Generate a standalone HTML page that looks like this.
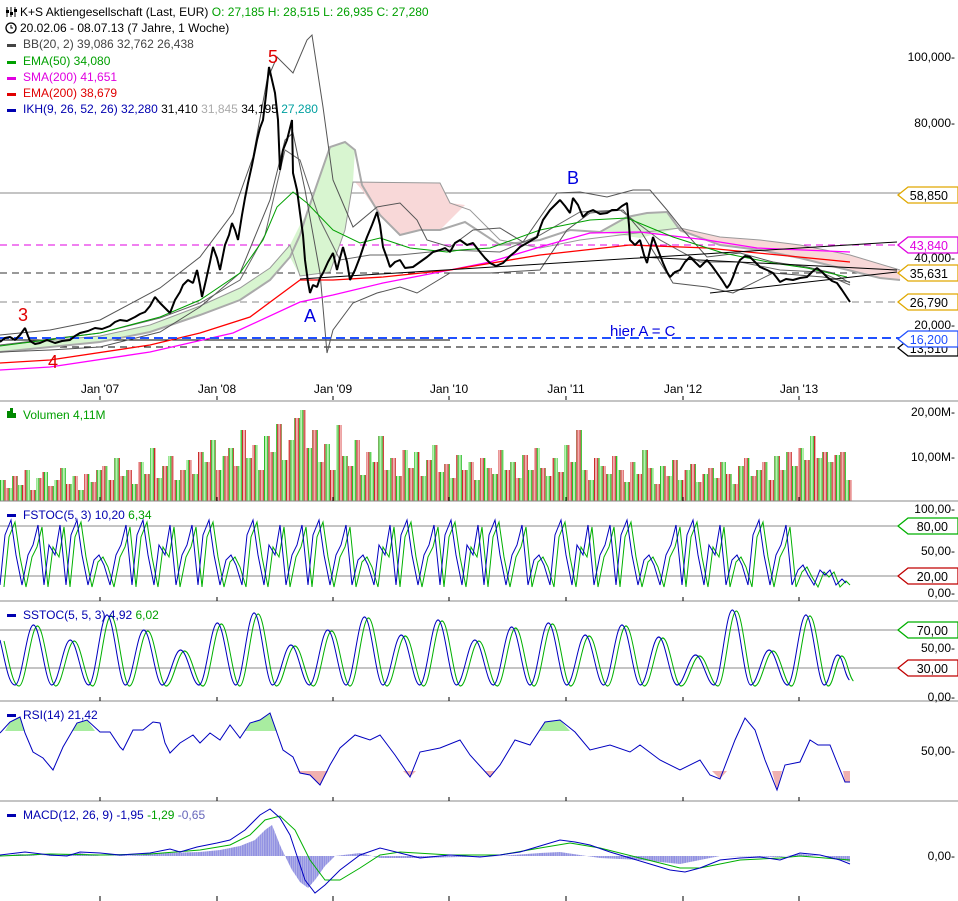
<!DOCTYPE html>
<html><head><meta charset="utf-8"><style>
html,body{margin:0;padding:0;background:#fff}
svg{display:block;font-family:"Liberation Sans",sans-serif}
</style></head><body>
<svg width="958" height="901" xmlns="http://www.w3.org/2000/svg">
<defs>
<pattern id="vp" patternUnits="userSpaceOnUse" width="8.8" height="200" x="0" y="0">
<rect x="0.5" y="0" width="3.2" height="200" fill="#b8f0b0" stroke="#00b000" stroke-width="0.8"/>
<rect x="4.9" y="0" width="3.2" height="200" fill="#f0b0b0" stroke="#c00000" stroke-width="0.8"/>
</pattern>
<pattern id="hp" patternUnits="userSpaceOnUse" width="2.2" height="200">
<rect x="0.3" y="0" width="1.4" height="200" fill="#9898e8" stroke="#6060c8" stroke-width="0.3"/>
</pattern>
<clipPath id="vc"><path d="M0 501 V480 H6 V488 H12 V476 H18 V485 H24 V470 H30 V490 H36 V478 H42 V472 H48 V486 H54 V480 H60 V468 H66 V484 H72 V476 H78 V490 H84 V474 H90 V482 H96 V470 H102 V466 H108 V480 H114 V458 H120 V476 H126 V470 H132 V484 H138 V462 H144 V474 H150 V448 H156 V478 H162 V466 H168 V456 H174 V480 H180 V470 H186 V460 H192 V474 H198 V452 H204 V462 H210 V440 H216 V470 H222 V456 H228 V448 H234 V466 H240 V430 H246 V458 H252 V445 H258 V470 H264 V436 H270 V452 H276 V424 H282 V460 H288 V440 H294 V418 H300 V410 H306 V448 H312 V430 H318 V462 H324 V444 H330 V470 H336 V425 H342 V456 H348 V466 H354 V440 H360 V475 H366 V452 H372 V462 H378 V436 H384 V470 H390 V458 H396 V476 H402 V450 H408 V468 H414 V452 H420 V476 H426 V460 H432 V445 H438 V472 H444 V464 H450 V478 H456 V455 H462 V470 H468 V462 H474 V480 H480 V458 H486 V468 H492 V474 H498 V450 H504 V470 H510 V462 H516 V478 H522 V455 H528 V470 H534 V448 H540 V468 H546 V476 H552 V458 H558 V472 H564 V445 H570 V462 H576 V430 H582 V470 H588 V480 H594 V458 H600 V466 H606 V474 H612 V456 H618 V470 H624 V482 H630 V462 H636 V474 H642 V450 H648 V468 H654 V484 H660 V466 H666 V476 H672 V460 H678 V480 H684 V470 H690 V464 H696 V482 H702 V474 H708 V468 H714 V478 H720 V462 H726 V474 H732 V484 H738 V466 H744 V458 H750 V476 H756 V470 H762 V462 H768 V480 H774 V456 H780 V470 H786 V452 H792 V466 H798 V448 H804 V460 H810 V436 H816 V458 H822 V452 H828 V462 H834 V455 H840 V452 H846 V480 H852 V501 Z"/></clipPath>
<path id="fw" d="M0 585 l5 -50 l6 -15 l5 35 l6 30 l6 -30 l5 -10 l5 -20 l6 60 l5 -40 l6 10 l5 -30 l6 60 l5 -50 l6 -15 l5 35 l6 30 l6 -25 l5 -5 l5 10 l6 20 l6 -30 l5 -10 l5 -20 l6 60 l5 -50 l6 -15 l5 35 l6 30 l5 -40 l6 10 l5 -30 l6 60 l6 -30 l5 -10 l5 -20 l6 60 l5 -50 l6 -15 l5 35 l6 30 l6 -25 l5 -5 l5 10 l6 20 l5 -50 l6 -15 l5 35 l6 30 l5 -40 l6 10 l5 -30 l6 60 l6 -30 l5 -10 l5 -20 l6 60 l5 -50 l6 -15 l5 35 l6 30 l6 -30 l5 -10 l5 -20 l6 60 l6 -25 l5 -5 l5 10 l6 20 l5 -40 l6 10 l5 -30 l6 60 l5 -50 l6 -15 l5 35 l6 30 l6 -30 l5 -10 l5 -20 l6 60 l5 -50 l6 -15 l5 35 l6 30 l5 -40 l6 10 l5 -30 l6 60 l5 -50 l6 -15 l5 35 l6 30 l6 -30 l5 -10 l5 -20 l6 60 l6 -25 l5 -5 l5 10 l6 20 l5 -50 l6 -15 l5 35 l6 30 l5 -40 l6 10 l5 -30 l6 60 l6 -30 l5 -10 l5 -20 l6 60 l5 -50 l6 -15 l5 35 l6 30 l6 -25 l5 -5 l5 10 l6 20 l6 -30 l5 -10 l5 -20 l6 60 l5 -50 l6 -15 l5 35 l6 30 l5 -40 l6 10 l5 -30 l6 60 l6 -25 l5 -5 l5 10 l6 20 l5 -50 l6 -15 l5 35 l6 30 l6 -30 l5 -10 l5 -20 l6 60 l6 -15 l5 -5 l5 10 l6 10 l6 -15 l5 5 l5 -5 l6 15 l6 -6 l4 4"/>
<path id="sw" d="M0 640 c6 20 10 45 18 45 c8 0 14 -60 22 -60 c8 0 14 60 22 60 c8 0 14 -45 22 -45 c8 0 14 45 22 45 c8 0 14 -70 22 -70 c8 0 14 70 22 70 c8 0 14 -55 22 -55 c8 0 14 55 22 55 c8 0 14 -35 22 -35 c8 0 14 35 22 35 c8 0 14 -62 22 -62 c8 0 14 62 22 62 c8 0 14 -72 22 -72 c8 0 14 72 22 72 c8 0 14 -40 22 -40 c8 0 14 40 22 40 c8 0 14 -55 22 -55 c8 0 14 55 22 55 c8 0 14 -68 22 -68 c8 0 14 68 22 68 c8 0 14 -50 22 -50 c8 0 14 50 22 50 c8 0 14 -65 22 -65 c8 0 14 65 22 65 c8 0 14 -45 22 -45 c8 0 14 45 22 45 c8 0 14 -58 22 -58 c8 0 14 58 22 58 c8 0 14 -62 22 -62 c8 0 14 62 22 62 c8 0 14 -50 22 -50 c8 0 14 50 22 50 c8 0 14 -60 22 -60 c8 0 14 60 22 60 c8 0 14 -48 22 -48 c8 0 14 48 22 48 c8 0 14 -30 22 -30 c8 0 14 30 22 30 c8 0 14 -75 22 -75 c8 0 14 75 22 75 c8 0 14 -35 22 -35 c8 0 14 35 22 35 c8 0 14 -70 22 -70 c8 0 14 70 22 70 c6 0 10 -30 16 -30 c6 0 8 20 14 25"/>
<clipPath id="sc"><rect x="0" y="602" width="900" height="99"/></clipPath>
</defs>

<line x1="0" x2="900" y1="193" y2="193" stroke="#888"/>
<line x1="0" x2="900" y1="245" y2="245" stroke="#e000e0" stroke-dasharray="7 5"/>
<line x1="0" x2="900" y1="273" y2="273" stroke="#333" stroke-dasharray="7 5"/>
<line x1="0" x2="900" y1="302" y2="302" stroke="#888" stroke-dasharray="7 5"/>
<line x1="0" x2="900" y1="347" y2="347" stroke="#000" stroke-dasharray="7 5"/>
<line x1="0" x2="450" y1="340" y2="340" stroke="#000"/>

<polygon points="0,345 100,336 150,325 200,306 240,288 270,268 290,245 300,225 307,213 330,147 345,142 355,150 353,182 345,230 330,272 300,276 290,257 270,280 240,300 200,315 150,332 100,342 0,352" fill="#d8f5d0"/>
<polygon points="355,182 440,183 450,203 465,205 440,230 420,230 400,235 380,215 362,190" fill="#f8d8d8"/>
<polygon points="600,232 627,217 647,213 667,212 680,228 640,238" fill="#d8f5d0"/>
<polygon points="680,228 720,237 760,240 800,245 850,255 900,270 900,280 880,278 840,268 800,258 760,250 720,245 680,232" fill="#f8d8d8"/>
<polyline points="0,352 100,342 150,332 200,315 240,300 270,280 290,257 300,235 307,213 330,147 345,142 355,150 362,185 380,215 400,235 420,230 440,230 465,222 500,245 540,240 570,230 600,232 627,217 647,213 667,212 680,230 720,245 760,250 800,258 840,268 880,278 900,280" fill="none" stroke="#aaa" stroke-width="2"/>
<polyline points="0,345 100,336 150,325 200,306 240,288 270,268 290,245 300,276 330,272 345,230 353,182 440,183 450,203 470,210 500,240 540,248 580,240 620,235 680,228 720,237 760,240 800,245 850,255 900,270" fill="none" stroke="#999" stroke-width="1"/>

<polyline points="0,335 50,330 100,320 160,288 200,257 233,213 253,157 267,80 277,57 293,73 307,40 312,35 323,107 333,180 353,227 377,207 400,203 417,220 427,240 450,247 473,230 500,228 523,242 557,193 580,192 607,197 633,190 650,190 667,210 683,230 707,257 740,253 773,262 807,267 833,273 850,283" fill="none" stroke="#555"/>
<polyline points="0,352 50,350 100,347 160,332 200,307 240,273 270,200 285,140 293,133 305,190 320,273 327,353 333,330 353,303 377,293 400,287 417,293 450,273 490,273 540,270 567,230 590,213 623,210 640,230 673,283 707,287 733,293 773,273 823,277 850,282" fill="none" stroke="#555"/>
<polyline points="0,345 100,333 160,318 200,303 240,280 265,235 285,150 300,160 320,220 340,260 370,255 400,255 450,250 500,252 540,235 580,212 620,210 660,240 700,262 740,262 780,270 820,272 850,285" fill="none" stroke="#666"/>

<polyline points="0,370 50,367 150,352 233,333 300,302 333,295 383,283 450,270 490,262 540,247 590,233 640,232 707,240 757,248 850,252" fill="none" stroke="#ff00ff" stroke-width="1.3"/>
<polyline points="0,363 50,360 150,345 200,333 250,317 277,297 300,280 333,280 383,277 450,270 540,255 630,245 707,248 850,262" fill="none" stroke="#ff0000" stroke-width="1.3"/>
<polyline points="0,346 100,333 160,317 200,300 240,273 263,240 277,207 293,192 307,203 333,230 360,243 380,238 410,248 447,252 460,250 490,248 540,230 590,220 627,218 673,237 723,253 773,263 807,268 847,277" fill="none" stroke="#00a000"/>

<line x1="300" y1="279" x2="897" y2="242" stroke="#000"/>
<line x1="710" y1="293" x2="897" y2="272" stroke="#000"/>
<line x1="640" y1="257" x2="897" y2="270" stroke="#000"/>
<line x1="0" x2="900" y1="338" y2="338" stroke="#2050ff" stroke-width="2" stroke-dasharray="9 5"/>

<polyline points="0,342 5,338 10,337 15,340 20,335 25,328 28,336 30,341 35,344 40,343 47,340 55,343 62,341 70,340 75,336 80,333 88,331 95,328 102,329 110,326 115,322 120,320 127,321 135,317 140,314 145,312 150,306 155,297 160,303 165,308 170,313 175,300 180,292 183,285 188,280 193,283 197,270 200,285 202,297 206,280 210,262 213,247 217,258 220,270 225,245 229,235 232,223 235,230 238,240 242,215 245,198 248,183 252,165 257,140 260,128 263,120 266,95 269,67 272,80 275,93 278,120 280,170 283,150 287,140 290,128 292,120 293,173 297,190 300,213 303,235 305,260 308,282 310,293 313,285 317,287 320,278 323,273 328,262 333,253 337,270 340,258 343,247 347,262 350,280 355,270 360,257 364,245 367,237 372,225 377,212 380,225 383,247 387,258 390,267 395,262 400,260 405,268 413,267 420,262 427,257 433,252 440,250 445,248 450,252 455,243 460,240 467,245 473,243 480,252 485,258 490,263 496,266 503,263 510,256 515,252 520,247 527,243 532,240 537,237 540,228 543,220 550,210 555,205 560,200 565,206 570,213 573,198 578,205 583,217 588,212 593,210 600,214 607,213 612,210 617,210 622,206 627,203 629,225 630,240 635,245 640,240 644,255 647,263 650,250 653,237 658,250 663,263 667,272 670,277 675,272 680,270 685,262 690,257 695,262 700,267 704,263 707,260 712,266 717,273 722,280 727,288 730,284 733,277 737,266 740,260 745,256 750,257 755,262 760,267 767,270 773,273 777,278 780,282 786,279 793,280 800,278 807,277 812,272 817,268 822,272 827,277 832,281 837,283 842,290 846,296 850,302" fill="none" stroke="#000" stroke-width="2" stroke-linejoin="bevel"/>

<rect x="0" y="400" width="900" height="101" fill="url(#vp)" clip-path="url(#vc)"/>

<line x1="0" x2="900" y1="526" y2="526" stroke="#888"/>
<line x1="0" x2="900" y1="576" y2="576" stroke="#888"/>
<use href="#fw" transform="translate(4,2)" fill="none" stroke="#00b000"/>
<use href="#fw" fill="none" stroke="#0000c0"/>

<line x1="0" x2="900" y1="630" y2="630" stroke="#888"/>
<line x1="0" x2="900" y1="668" y2="668" stroke="#888"/>
<g clip-path="url(#sc)">
<use href="#sw" transform="translate(4,1) scale(0.836,1)" fill="none" stroke="#00b000" stroke-width="1.2"/>
<use href="#sw" transform="scale(0.836,1)" fill="none" stroke="#0000c0" stroke-width="1.2"/>
</g>

<polygon points="5,731 10,722 20,717 25,731" fill="#a8eca0"/>
<polygon points="72,731 77,723 87,720 95,731" fill="#a8eca0"/>
<polygon points="245,731 250,723 260,720 270,713 277,731" fill="#a8eca0"/>
<polygon points="540,731 545,722 560,720 570,731" fill="#a8eca0"/>
<polygon points="297,771 300,773 310,775 320,785 328,771" fill="#f0b0b0"/>
<polygon points="403,771 410,777 416,771" fill="#f0b0b0"/>
<polygon points="485,771 490,777 495,771" fill="#f0b0b0"/>
<polygon points="712,771 720,779 727,771" fill="#f0b0b0"/>
<polygon points="772,771 777,790 782,771" fill="#f0b0b0"/>
<polygon points="843,771 845,782 850,782 850,771" fill="#f0b0b0"/>
<polyline points="0,733 10,722 20,717 25,733 33,752 43,758 53,770 63,747 77,723 87,720 100,732 110,732 120,747 123,750 133,730 143,730 153,722 160,723 165,743 170,753 180,743 193,735 200,743 210,733 220,740 230,725 240,738 250,723 260,720 270,713 277,733 283,750 293,757 300,773 310,775 320,785 330,765 340,748 355,735 370,740 380,735 395,755 410,777 420,752 440,748 460,740 470,755 490,777 500,765 515,740 530,745 545,722 560,720 575,732 590,750 610,745 630,752 640,745 660,760 680,770 700,760 710,775 720,779 735,740 745,718 755,730 765,760 777,790 785,765 800,762 810,740 818,745 830,745 838,765 845,782 850,782" fill="none" stroke="#0000c0"/>

<polygon points="0,856 20,854 40,856 60,855 80,853 100,856 140,855 160,853 200,852 220,850 240,846 255,840 265,830 272,825 280,845 285,856 292,870 300,882 308,888 315,880 325,866 335,856 360,853 380,858 420,858 500,856 540,853 560,852 600,858 640,860 680,864 700,860 720,856 780,857 800,854 830,857 850,862 850,856 0,856" fill="url(#hp)"/>
<polyline points="0,856 50,854 100,855 150,854 200,850 230,845 250,835 265,820 280,816 295,830 310,860 325,880 340,880 360,868 380,855 400,852 450,855 500,855 540,848 570,843 600,848 640,858 680,868 700,868 740,860 780,858 800,856 850,860" fill="none" stroke="#00b000"/>
<polyline points="0,855 25,852 50,855 67,856 80,852 100,853 120,855 150,853 170,849 180,852 197,847 217,843 230,840 245,830 260,815 270,809 280,818 290,835 297,856 305,880 315,893 325,885 340,870 360,855 380,848 400,853 420,858 450,855 480,857 500,855 520,852 540,846 560,840 575,842 590,845 610,852 630,858 650,864 670,870 685,872 700,868 720,860 740,858 760,857 780,860 800,853 820,855 840,860 850,864" fill="none" stroke="#0000c0"/>

<g stroke="#888"><line x1="0" x2="958" y1="401" y2="401"/><line x1="0" x2="958" y1="501" y2="501"/><line x1="0" x2="958" y1="601" y2="601"/><line x1="0" x2="958" y1="701" y2="701"/><line x1="0" x2="958" y1="801" y2="801"/></g>
<g stroke="#000">
<path d="M100 396v4M217 396v4M333 396v4M449 396v4M566 396v4M683 396v4M799 396v4 M100 497v4M217 497v4M333 497v4M449 497v4M566 497v4M683 497v4M799 497v4 M100 597v4M217 597v4M333 597v4M449 597v4M566 597v4M683 597v4M799 597v4 M100 697v4M217 697v4M333 697v4M449 697v4M566 697v4M683 697v4M799 697v4 M100 797v4M217 797v4M333 797v4M449 797v4M566 797v4M683 797v4M799 797v4 M100 896v5M217 896v5M333 896v5M449 896v5M566 896v5M683 896v5M799 896v5"/>
</g>

<g font-size="12.5" text-anchor="end">
<path d="M898 195 L908 187 H958 V203 H908 Z" fill="#fff" stroke="#e0a800" stroke-width="1.3"/><text x="948" y="200">58,850</text>
<path d="M898 245 L908 237 H958 V253 H908 Z" fill="#fff" stroke="#e000e0" stroke-width="1.3"/><text x="948" y="250" fill="#e000e0">43,840</text>
<path d="M898 273 L908 265 H958 V281 H908 Z" fill="#fff" stroke="#e0a800" stroke-width="1.3"/><text x="948" y="278">35,631</text>
<path d="M898 302 L908 294 H958 V310 H908 Z" fill="#fff" stroke="#e0a800" stroke-width="1.3"/><text x="948" y="307">26,790</text>
<path d="M898 348 L908 340 H958 V356 H908 Z" fill="#fff" stroke="#000" stroke-width="1.3"/><text x="948" y="353">13,510</text>
<path d="M898 339 L908 331 H958 V347 H908 Z" fill="#fff" stroke="#2050ff" stroke-width="1.3"/><text x="948" y="344" fill="#2050ff">16,200</text>
<path d="M898 526 L908 518 H958 V534 H908 Z" fill="#fff" stroke="#00b000" stroke-width="1.3"/><text x="948" y="531">80,00</text>
<path d="M898 576 L908 568 H958 V584 H908 Z" fill="#fff" stroke="#c00000" stroke-width="1.3"/><text x="948" y="581">20,00</text>
<path d="M898 630 L908 622 H958 V638 H908 Z" fill="#fff" stroke="#00b000" stroke-width="1.3"/><text x="948" y="635">70,00</text>
<path d="M898 668 L908 660 H958 V676 H908 Z" fill="#fff" stroke="#c00000" stroke-width="1.3"/><text x="948" y="673">30,00</text>
</g>

<g font-size="12">
<text x="20" y="16" fill="#000">K+S Aktiengesellschaft (Last, EUR) <tspan fill="#00a000">O: 27,185  H: 28,515  L: 26,935  C: 27,280</tspan></text>
<text x="20" y="32" fill="#000">20.02.06 - 08.07.13 (7 Jahre, 1 Woche)</text>
<text x="23" y="48" fill="#444">BB(20, 2)  39,086  32,762  26,438</text>
<text x="23" y="65" fill="#00a000">EMA(50)  34,080</text>
<text x="23" y="81" fill="#e000e0">SMA(200)  41,651</text>
<text x="23" y="97" fill="#e00000">EMA(200)  38,679</text>
<text x="23" y="113" fill="#0000b0">IKH(9, 26, 52, 26)  32,280  <tspan fill="#000">31,410</tspan>  <tspan fill="#aaa">31,845</tspan>  <tspan fill="#000">34,195</tspan>  <tspan fill="#00a0a0">27,280</tspan></text>
<rect x="7" y="44" width="9" height="3" fill="#444"/>
<rect x="7" y="61" width="9" height="3" fill="#00a000"/>
<rect x="7" y="77" width="9" height="3" fill="#e000e0"/>
<rect x="7" y="93" width="9" height="3" fill="#e00000"/>
<rect x="7" y="109" width="9" height="3" fill="#0000b0"/>
<path d="M7 7v10M11 7v10M15 7v10" stroke="#000"/><rect x="6" y="10" width="3" height="3" fill="#000"/><rect x="10" y="12" width="3" height="3" fill="#000"/><rect x="14" y="9" width="3" height="3" fill="#000"/>
<circle cx="11" cy="28" r="5" fill="none" stroke="#000" stroke-width="1.3"/>
<path d="M11 25 V28 H13" stroke="#000" fill="none"/>
<text x="23" y="419" fill="#00a000">Volumen  4,11M</text>
<rect x="7" y="411" width="3" height="7" fill="#080"/><rect x="10" y="408" width="3" height="10" fill="#080"/><rect x="13" y="413" width="3" height="5" fill="#080"/>
<text x="23" y="519" fill="#0000b0">FSTOC(5, 3)  10,20  <tspan fill="#00a000">6,34</tspan></text>
<text x="23" y="619" fill="#0000b0">SSTOC(5, 5, 3)  4,92  <tspan fill="#00a000">6,02</tspan></text>
<text x="23" y="719" fill="#0000b0">RSI(14)  21,42</text>
<text x="23" y="819" fill="#0000b0">MACD(12, 26, 9)  -1,95  <tspan fill="#00a000">-1,29</tspan>  <tspan fill="#6666bb">-0,65</tspan></text>
<rect x="7" y="514" width="9" height="3" fill="#0000b0"/>
<rect x="7" y="614" width="9" height="3" fill="#0000b0"/>
<rect x="7" y="714" width="9" height="3" fill="#0000b0"/>
<rect x="7" y="814" width="9" height="3" fill="#0000b0"/>
<g text-anchor="end" fill="#000">
<text x="955" y="61">100,000-</text>
<text x="955" y="127">80,000-</text>
<text x="955" y="262">40,000-</text>
<text x="955" y="329">20,000-</text>
<text x="955" y="416">20,00M-</text>
<text x="955" y="461">10,00M-</text>
<text x="955" y="513">100,00-</text>
<text x="955" y="555">50,00-</text>
<text x="955" y="597">0,00-</text>
<text x="955" y="652">50,00-</text>
<text x="955" y="701">0,00-</text>
<text x="955" y="755">50,00-</text>
<text x="955" y="860">0,00-</text>
</g>
<g fill="#000" text-anchor="middle">
<text x="100" y="393">Jan '07</text><text x="217" y="393">Jan '08</text><text x="333" y="393">Jan '09</text>
<text x="449" y="393">Jan '10</text><text x="566" y="393">Jan '11</text><text x="683" y="393">Jan '12</text><text x="799" y="393">Jan '13</text>
</g>
<g font-size="18" text-anchor="middle">
<text x="273" y="63" fill="#e00000">5</text>
<text x="23" y="321" fill="#e00000">3</text>
<text x="53" y="368" fill="#e00000">4</text>
<text x="310" y="322" fill="#0000e0">A</text>
<text x="573" y="184" fill="#0000e0">B</text>
</g>
<text x="610" y="336" font-size="15" fill="#0000e0">hier A = C</text>
</g>
</svg>
</body></html>
